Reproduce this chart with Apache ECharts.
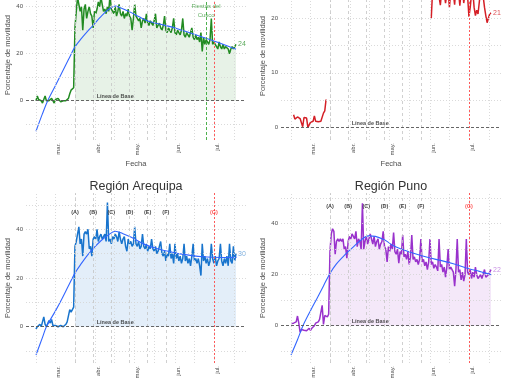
<!DOCTYPE html>
<html><head><meta charset="utf-8">
<script src="https://cdn.jsdelivr.net/npm/echarts@6/dist/echarts.min.js"></script>
<style>html,body{margin:0;padding:0;background:#fff}#c{width:510px;height:382px}</style>
</head><body><div id="c"></div>
<script>
// x values are days counted from 1 March 2020 (first observation = 15 Feb = -15)
const startDay = -15;
const fillStartDay = 15;

const cuscoValues = [0,2,0.5,1,0,-1,0.5,2,0,-0.5,0,0.5,1,0,-1,0.5,0,1,0.5,-0.5,-1,0,0.5,0,0.5,1,3,4.5,5,5.5,
 31,38,44,41,38,40,30,39,41,35,38,40,37,36,31,
 38,37,39,42,40,44,41,38,39,37,40,38,45,39,38,
 37,40,36,38,41,37,36,38,35,37,36,39,36,35,30,
 35,41,36,35,34,35,31,34,35,33,37,33,32,34,33,
 32,34,37,31,32,33,31,30,32,36,30,29,31,30,29,
 31,35,29,28,30,29,28,30,35,28,27,29,28,27,29,
 31,27,26,28,26,27,25,29,21,27,24,26,25,24,26,
 35,24,25,24,23,22,25,23,22,24,22,23,23,22,20,
 22,23,22,23,24];

const nullRun = n => Array(n).fill(null);
const region2Values = [null,null,
 2.3,1.5,1.2,1.9,2.2,1.6,1.5,0.1,1.8,1.6,1.7,0.0,0.3,0.9,1.0,1.1,2.1,1.1,1.0,1.0,1.0,1.1,1.0,2.6,3.0,5.1]
 .concat(nullRun(80))
 .concat([20,25,26,24.5,26,25,24,22.4,25,26,24.5,22.8,24.5,25,22.0,25,26,24.5,22.5,26,24.5,25,22.3,25,26,22.8,24.5,26,24,
 20.3,22,24.5,25,22,20.5,21.5,20.8,23,25,25.5,24,22,20.5,19.2,20,20.8,21]);

const arequipaValues = [-1,0,0.5,1,0,2,4,1,0,-0.5,2.5,1.5,3,0.5,0,0.5,1,0,0.5,0.5,1,0,0.5,1,2,1.5,7,6,5.5,8,
 33,35,38,41,34,36,29,38,39,38,40,32,33,29,36,
 37,36,40,35,37,38,36,37,38,35,51,35,36,34,37,
 36,38,37,35,39,36,34,36,37,33,31,36,34,35,33,
 34,41,34,33,35,32,33,38,33,32,34,31,33,32,36,
 32,31,33,30,31,33,35,30,29,31,27,30,29,34,28,
 30,26,34,28,30,27,29,26,28,34,27,29,26,28,25,
 29,34,27,28,26,28,25,21,34,27,29,26,28,25,27,
 34,28,26,29,25,27,28,34,27,25,28,26,29,25,34,
 27,26,33,27,30];

const punoValues = [0.9,1,1,1.2,1.5,3.8,1,-2.5,-1.5,-2,-1.8,-1.5,-2,-1.5,-1,-1.8,-1,-0.5,0,1,0.5,1.5,2.5,3,8,0.5,4,4.2,3.5,4.5,
 29,36,38,37,28,33,34,33,34,33,34,30,31,26.5,33,
 35,34,36,35,34,37,31,34,33,30,48,30,33,35,32,
 34,36,34,32,35,31,33,34,30,32,33,37,31,30,25,
 31,29,32,30,36.5,29,28,30,24.5,29,28,35.5,27,28,26,
 29,24,27,35.5,26,27,25,26,24,26,34,25,26,23.5,25,
 22,25,34,24,25,22.5,24,23,21.5,34,23,24,21,23,19,
 23,30,22,23,22,21,15.5,22,34,21,22,18,21,17.5,20,
 34,21,20,22,18.5,21,19,23,20,18.5,19,20,18.5,19,22,
 19,19.5,20,21,22];

// smoothed trend
const cuscoTrendDays   = [-15,-10,-6,0,5,10,15,20,25,29,34,38,42,46,50,57,64,71,80,90,96,105,114,122,130,139];
const cuscoTrendValues = [-13,-5.5,0,6.5,12,17.5,22.9,26.5,29.7,32,35.2,37.5,39.2,40.3,39.5,37.8,35.8,33.9,32.6,31.3,30.2,28.6,26.9,25.4,23.8,21.9];
const arequipaTrendDays   = [-15,-10,-7,0,5,10,15,20,25,30,35,40,46,52,58,64,70,80,90,96,105,114,122,130,139.5];
const arequipaTrendValues = [-11.6,-4.4,0,6.5,11.5,16.8,22,26,29.6,32.6,35.3,37.4,39.2,38.2,36.8,35.1,33.5,31.8,30.6,29.9,29.2,28.7,28.5,28.4,28.5];
const punoTrendDays   = [-15,-10,-5.8,0,5,10,15,20,25,29,32,38,44.6,50,57.5,64,70.4,80,90,100,110,122,130,139.4];
const punoTrendValues = [-11.5,-5.5,0,5.9,10.7,15.6,20.5,24.2,27,29,30.4,33.2,35.2,35,33.5,31.3,30,28.3,26.8,25.6,24.3,22.3,21.3,20];

const monthTickDays = [0, 31, 61, 92, 122];
const monthTickLabels = ['mar.', 'abr.', 'may.', 'jun.', 'jul.'];
const minorGridDays = [-14.5, 15, 45.5, 76, 107, 137.5];
const eventDays = [15, 29, 43, 57, 71, 85, 122];
const eventLabels = ['(A)', '(B)', '(C)', '(D)', '(E)', '(F)', '(G)'];
const eventLabelY = 46.7;
const fiestasDay = 116;
const fiestasLabelY = 38.2;
const baseLabelDay = 46;

const FONT = "'Liberation Sans', Arial, sans-serif";

const panels = [
  {grid:{left:26, top:-30, width:220, height:170}, yMin:-16.7, yMax:55.6, yLabels:[0,20,40], yGrid:[-10,10,20,30,40,50],
   values:cuscoValues, color:'#228B22', fill:'rgba(34,139,34,0.11)', end:'rgba(34,139,34,0.75)',
   trend:[cuscoTrendDays,cuscoTrendValues], fiestas:true},
  {grid:{left:281, top:-28, width:220, height:168}, yMin:-2.33, yMax:28.5, yLabels:[0,10,20], yGrid:[5,10,15,20,25],
   values:region2Values, color:'#d41f26', fill:null, end:'rgba(212,31,38,0.8)', trend:null},
  {grid:{left:26, top:193, width:220, height:170}, yMin:-14.9, yMax:54.9, yLabels:[0,20,40], yGrid:[-10,10,20,30,40,50],
   values:arequipaValues, color:'#1874CD', fill:'rgba(24,116,205,0.12)', end:'rgba(24,116,205,0.6)',
   trend:[arequipaTrendDays,arequipaTrendValues]},
  {grid:{left:281, top:193, width:220, height:170}, yMin:-14.6, yMax:52.0, yLabels:[0,20,40], yGrid:[-10,10,20,30,40,50],
   values:punoValues, color:'#9932CC', fill:'rgba(153,50,204,0.11)', end:'rgba(153,50,204,0.55)',
   trend:[punoTrendDays,punoTrendValues]}
];

const grid = [], xAxis = [], yAxis = [], series = [];
const gridStyle = {color:'#d6d6d6', type:[1,2], width:0.9};

panels.forEach((p, i) => {
  grid.push(Object.assign({outerBoundsMode:'none', containLabel:false}, p.grid));
  xAxis.push({type:'value', gridIndex:i, min:-22.7, max:146.7,
    axisLine:{show:false}, axisTick:{show:false}, splitLine:{show:false},
    axisLabel:{customValues:monthTickDays, rotate:90, fontSize:6, color:'#4d4d4d', margin:3, verticalAlign:'top',
      formatter: v => { const k = monthTickDays.indexOf(v); return k >= 0 ? monthTickLabels[k] : ''; }},
    name:'Fecha', nameLocation:'middle', nameGap:18, nameTextStyle:{fontSize:7.5, color:'#4d4d4d'}});
  yAxis.push({type:'value', gridIndex:i, min:p.yMin, max:p.yMax,
    axisLine:{show:false}, axisTick:{show:false}, splitLine:{show:false},
    axisLabel:{customValues:p.yLabels, fontSize:6, color:'#4d4d4d', margin:3},
    name:'Porcentaje de movilidad', nameLocation:'middle', nameRotate:90, nameGap:10,
    nameTextStyle:{fontSize:7.5, color:'#4d4d4d'}});

  const pts = p.values.map((v, k) => [startDay + k, v === null ? '-' : v]);
  const guides = [];
  p.yGrid.forEach(v => guides.push({yAxis:v, lineStyle:gridStyle}));
  monthTickDays.concat(minorGridDays).forEach(d => guides.push({xAxis:d, lineStyle:gridStyle}));
  eventDays.forEach((d, k) => guides.push({xAxis:d, lineStyle: k === 6
      ? {color:'#ff4a4a', type:[2,2], width:0.9}
      : {color:'#c4c4c4', type:[3,3], width:0.8}}));
  if (p.fiestas) guides.push({xAxis:fiestasDay, lineStyle:{color:'#3aa83a', type:[3,2], width:0.9}});
  guides.push({yAxis:0, lineStyle:{color:'#555', type:[3,2], width:0.9}});

  series.push({type:'line', xAxisIndex:i, yAxisIndex:i, data:[[startDay, 0]], symbol:'none', silent:true,
    lineStyle:{opacity:0}, z:1,
    markLine:{symbol:'none', silent:true, animation:false, label:{show:false}, data:guides}});

  if (p.fill) {
    const fillPts = pts.filter(d => d[0] >= fillStartDay);
    series.push({type:'line', xAxisIndex:i, yAxisIndex:i, data:fillPts, symbol:'none', silent:true,
      lineStyle:{width:0}, areaStyle:{color:p.fill, opacity:1}, z:2});
  }
  series.push({type:'line', xAxisIndex:i, yAxisIndex:i, data:pts, symbol:'none', connectNulls:false,
    lineStyle:{color:p.color, width:1.5}, z:3,
    endLabel:{show:true, formatter: q => Math.round(q.value[1]), color:p.end, fontSize:7, distance:2}});
  if (p.trend) {
    series.push({type:'line', xAxisIndex:i, yAxisIndex:i, smooth:0.35, symbol:'none',
      data:p.trend[0].map((d, k) => [d, p.trend[1][k]]), lineStyle:{color:'#3366FF', width:1.1}, z:4});
  }
  const notes = eventDays.map((d, k) => ({value:[d, eventLabelY], name:eventLabels[k],
    label:{color: k === 6 ? '#ff3030' : '#111'}}));
  notes.push({value:[baseLabelDay, 0], name:'Línea de Base', label:{position:'top', distance:1, color:'#1a1a1a'}});
  if (p.fiestas) notes.push({value:[fiestasDay, fiestasLabelY], name:'Fiestas del\nCusco',
    label:{color:'#3a9a3a', fontWeight:'normal', fontSize:6, lineHeight:9}});
  series.push({type:'scatter', xAxisIndex:i, yAxisIndex:i, data:notes, symbolSize:0, silent:true, z:6,
    label:{show:true, position:'inside', formatter:'{b}', fontSize:5.5, fontWeight:'bold'}});
});

const chart = echarts.init(document.getElementById('c'), null, {renderer:'canvas'});
chart.setOption({
  animation:false,
  backgroundColor:'#fff',
  textStyle:{fontFamily:FONT},
  title:[
    {text:'Región Arequipa', left:131, top:175, textAlign:'center', textStyle:{fontSize:12.5, fontWeight:'normal', color:'#333', fontFamily:FONT}},
    {text:'Región Puno', left:386, top:175, textAlign:'center', textStyle:{fontSize:12.5, fontWeight:'normal', color:'#333', fontFamily:FONT}}
  ],
  grid, xAxis, yAxis, series
});
</script></body></html>
